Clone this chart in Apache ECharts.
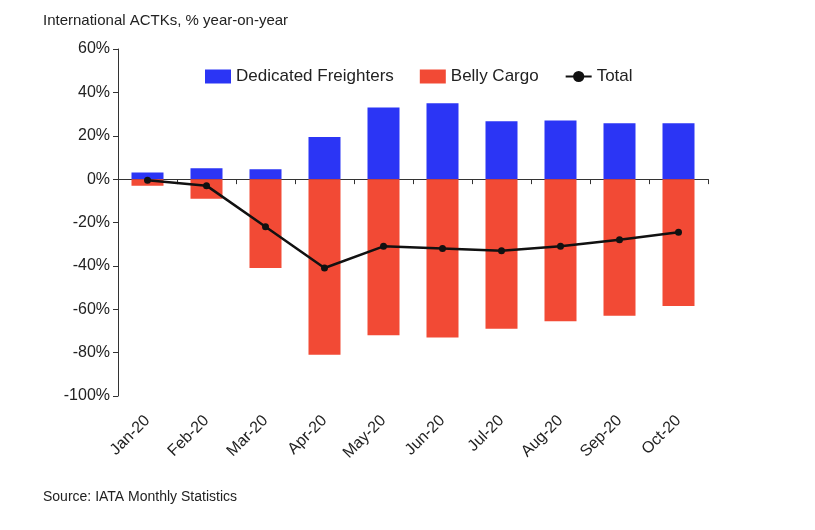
<!DOCTYPE html>
<html><head><meta charset="utf-8">
<script src="https://cdn.jsdelivr.net/npm/echarts@6/dist/echarts.min.js"></script>
<style>html,body{margin:0;background:#fff}#main{width:815px;height:530px}</style>
</head><body><div id="main"></div>
<script>
var months = ['Jan-20','Feb-20','Mar-20','Apr-20','May-20','Jun-20','Jul-20','Aug-20','Sep-20','Oct-20'];
var freighters = [3, 5, 4.6, 19.4, 33, 35, 26.7, 27, 25.8, 25.8];
var belly = [-3, -9, -41, -81, -72, -73, -69, -65.5, -63, -58.5];
var total = [-0.5, -3, -22, -41, -31, -32, -33, -31, -28, -24.5];

var chart = echarts.init(document.getElementById('main'));
var font = 'Liberation Sans';
chart.setOption({
    animation: false,
    textStyle: {fontFamily: font},
    title: [
        {text: 'International ACTKs, % year-on-year', left: 38, top: 8,
            textStyle: {fontSize: 15, fontWeight: 'normal', color: '#222', fontFamily: font}},
        {text: 'Source: IATA Monthly Statistics', left: 38, top: 485,
            textStyle: {fontSize: 14, fontWeight: 'normal', color: '#222', fontFamily: font}}
    ],
    legend: {
        top: 63, left: 200, itemGap: 26, itemWidth: 26, itemHeight: 14,
        textStyle: {fontSize: 17, color: '#222'},
        data: [{name: 'Dedicated Freighters', icon: 'rect'}, {name: 'Belly Cargo', icon: 'rect'}, {name: 'Total'}]
    },
    grid: {left: 118, right: 107, top: 49, bottom: 134, containLabel: false},
    xAxis: {
        type: 'category', data: months,
        axisLine: {onZero: true, lineStyle: {color: '#333'}},
        axisTick: {show: true, lineStyle: {color: '#333'}},
        axisLabel: {rotate: 45, fontSize: 16, color: '#222', margin: 22}
    },
    yAxis: {
        type: 'value', min: -100, max: 60, interval: 20,
        axisLine: {show: true, lineStyle: {color: '#333'}},
        axisTick: {show: true, lineStyle: {color: '#333'}},
        splitLine: {show: false},
        axisLabel: {formatter: '{value}%', fontSize: 16, color: '#222'}
    },
    series: [
        {name: 'Dedicated Freighters', type: 'bar', stack: 'a', data: freighters, barWidth: 32,
            itemStyle: {color: '#2b35f5'}},
        {name: 'Belly Cargo', type: 'bar', stack: 'a', data: belly, barWidth: 32,
            itemStyle: {color: '#f24a35'}},
        {name: 'Total', type: 'line', data: total, symbol: 'circle', symbolSize: 7,
            lineStyle: {color: '#111', width: 2.5}, itemStyle: {color: '#111'}}
    ]
});
</script></body></html>
